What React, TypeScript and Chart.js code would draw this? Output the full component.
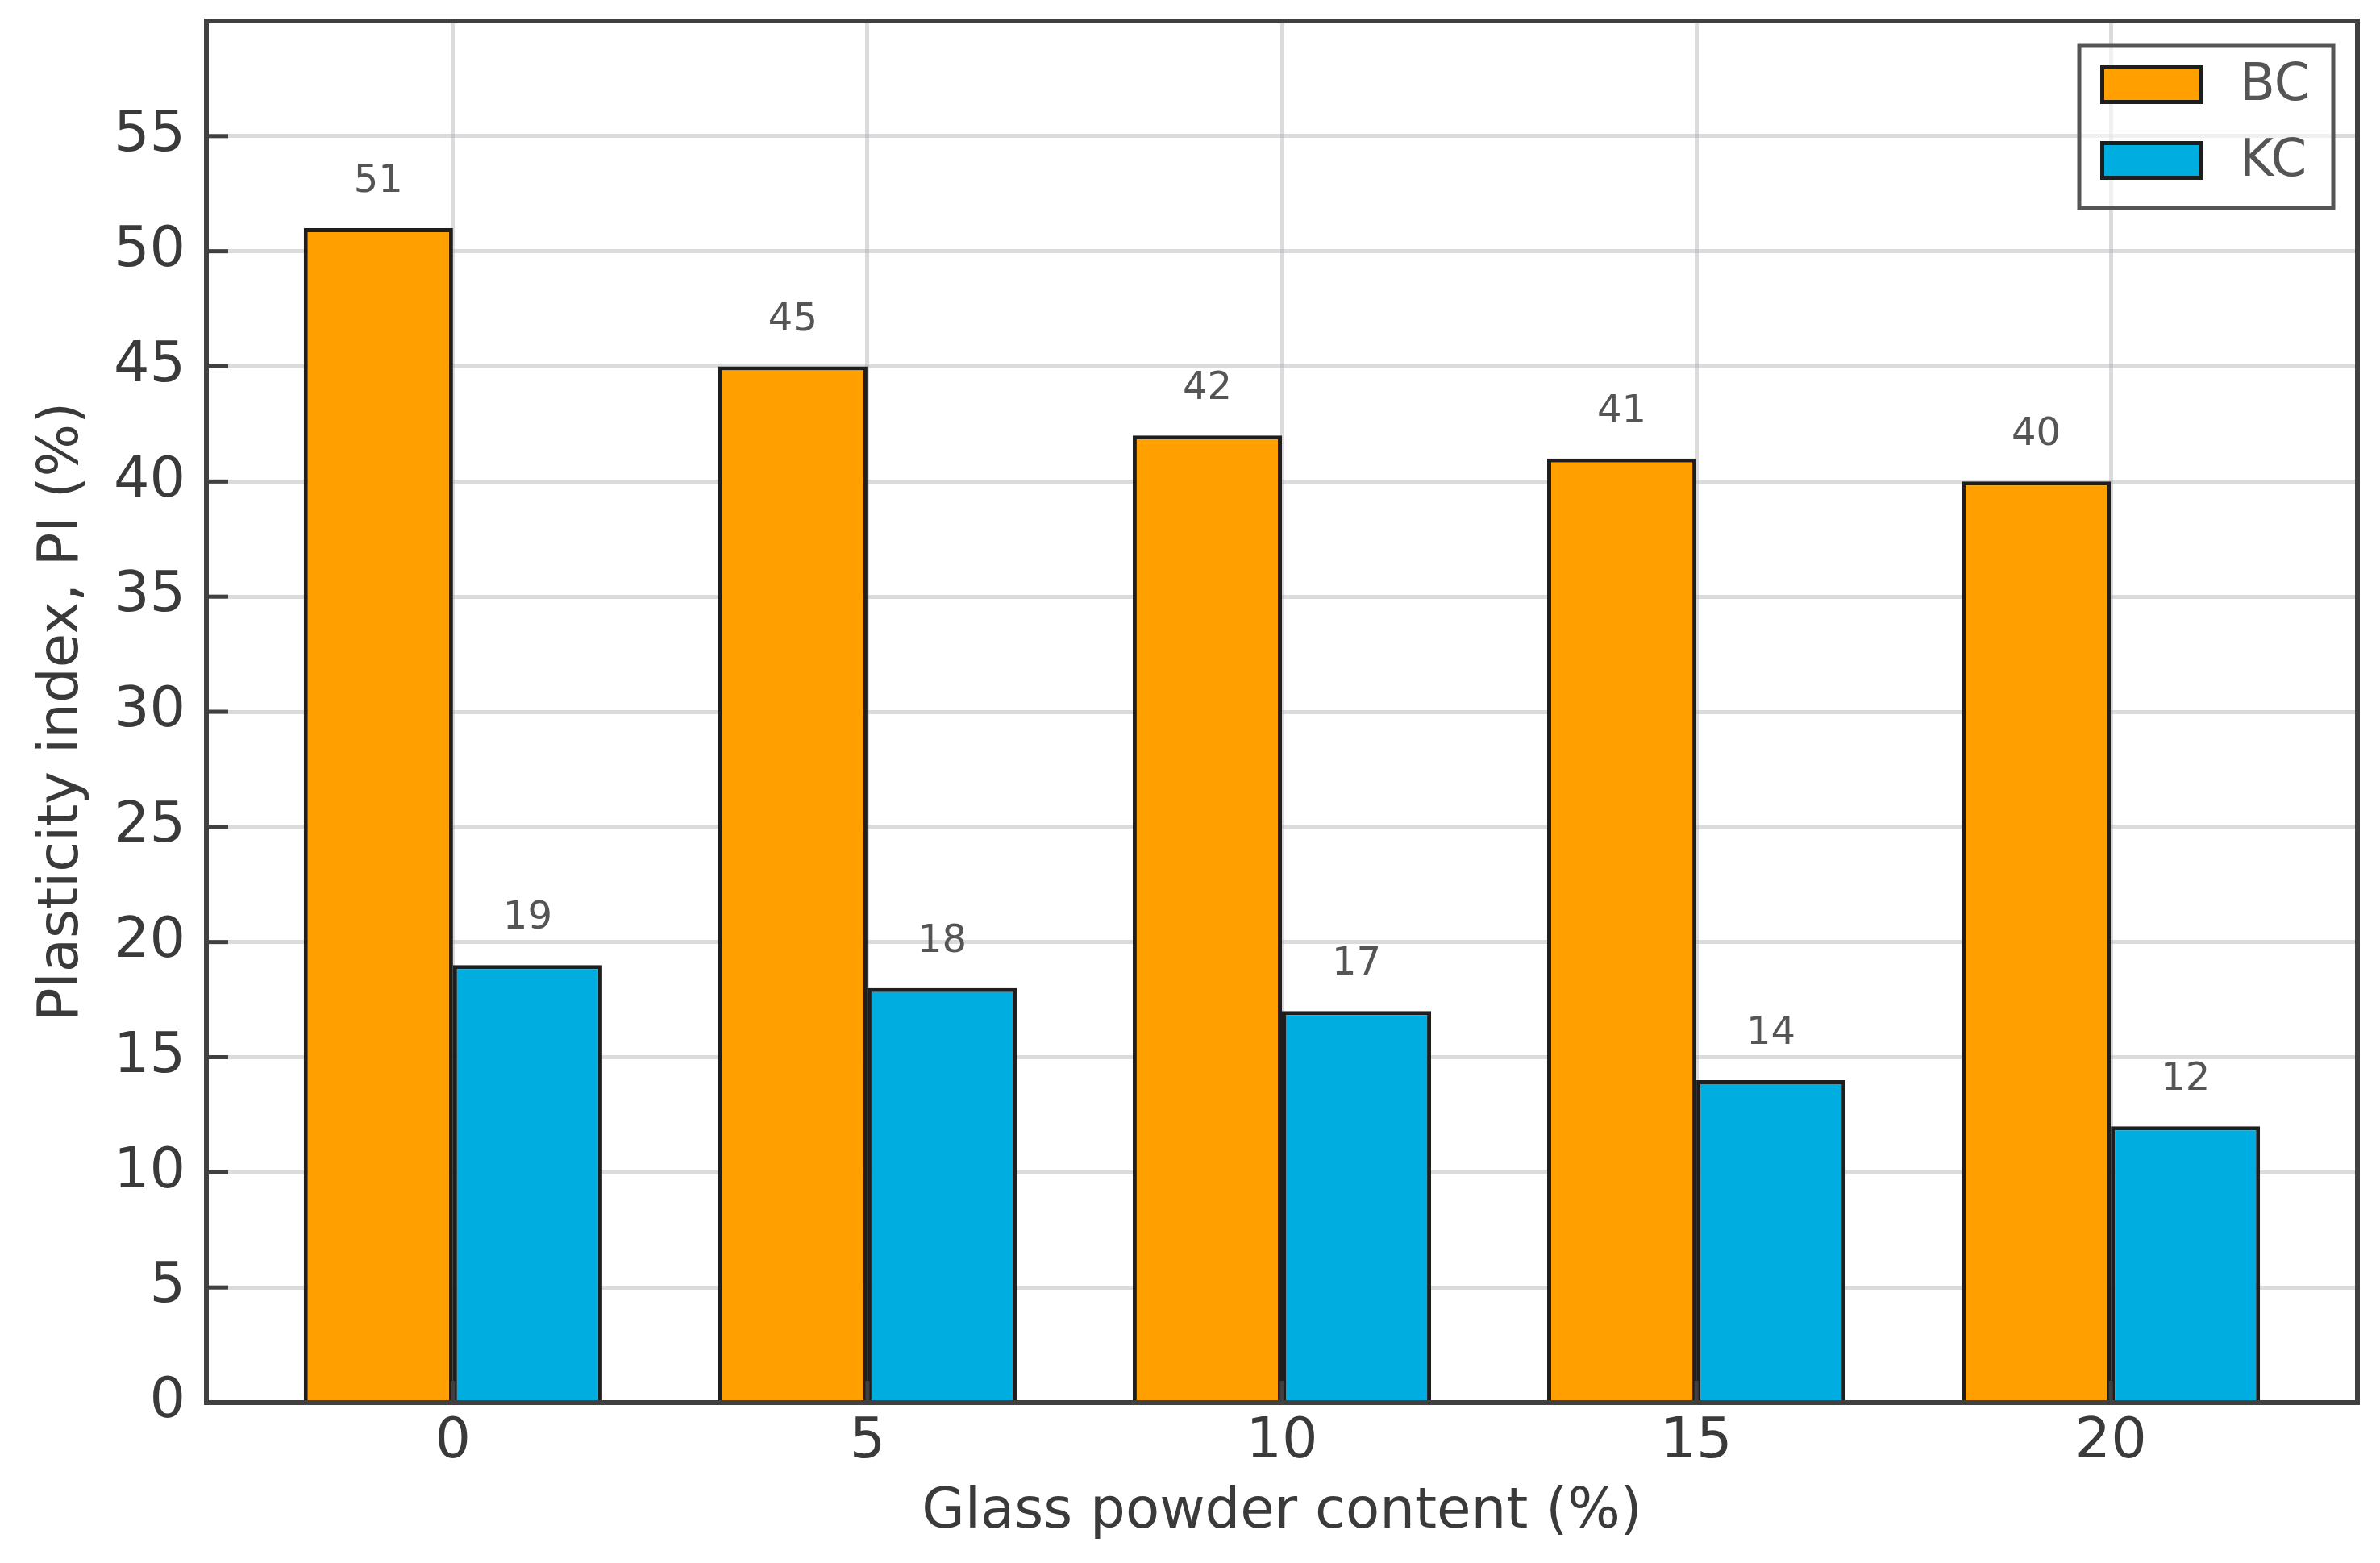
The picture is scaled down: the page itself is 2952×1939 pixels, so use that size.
import React, { useEffect, useRef } from 'react';
import { Chart, registerables } from 'chart.js';

Chart.register(...registerables);

const categories = ['0', '5', '10', '15', '20'];
const xPositions = [0, 1, 2, 3, 4];
const seriesNames = ['BC', 'KC'];
const bcValues = [51, 45, 42, 41, 40];
const kcValues = [19, 18, 17, 14, 12];
const yTicks = [0, 5, 10, 15, 20, 25, 30, 35, 40, 45, 50, 55];
const xTitle = 'Glass powder content (%)';
const yTitle = 'Plasticity index, PI (%)';

const FONT = "'DejaVu Sans', sans-serif";
const W = 2952;
const H = 1939;

const valueLabelPlugin = {
  id: 'valueLabels',
  afterDraw(chart: any) {
    const ctx = chart.ctx;
    ctx.save();
    ctx.font = `48px ${FONT}`;
    ctx.fillStyle = '#555555';
    ctx.textAlign = 'center';
    ctx.textBaseline = 'alphabetic';
    chart.data.datasets.forEach((ds: any, di: number) => {
      const meta = chart.getDatasetMeta(di);
      meta.data.forEach((bar: any, i: number) => {
        const v = ds.data[i].y;
        ctx.fillText(String(v), bar.x, bar.y - 45);
      });
    });
    ctx.restore();
  },
};

const framePlugin = {
  id: 'frameTicks',
  afterDraw(chart: any) {
    const ctx = chart.ctx;
    const a = chart.chartArea;
    const xs = chart.scales.x;
    const ys = chart.scales.y;
    ctx.save();
    ctx.strokeStyle = '#404040';
    ctx.lineWidth = 5;
    ctx.lineCap = 'butt';
    ys.ticks.forEach((t: any) => {
      const py = ys.getPixelForValue(t.value);
      ctx.beginPath();
      ctx.moveTo(a.left, py);
      ctx.lineTo(a.left + 27, py);
      ctx.stroke();
    });
    xs.ticks.forEach((t: any) => {
      const px = xs.getPixelForValue(t.value);
      ctx.beginPath();
      ctx.moveTo(px, a.bottom);
      ctx.lineTo(px, a.bottom - 27);
      ctx.stroke();
    });
    ctx.lineWidth = 6;
    ctx.strokeRect(a.left, a.top, a.right - a.left, a.bottom - a.top);
    ctx.restore();
  },
};

const legendPlugin = {
  id: 'innerLegend',
  afterDraw(chart: any) {
    const ctx = chart.ctx;
    const a = chart.chartArea;
    const right = a.right - 30;
    const top = a.top + 30;
    const w = 315;
    const h = 202;
    const left = right - w;
    ctx.save();
    ctx.fillStyle = 'rgba(255,255,255,0.6)';
    ctx.fillRect(left, top, w, h);
    ctx.strokeStyle = '#555555';
    ctx.lineWidth = 5;
    ctx.strokeRect(left, top, w, h);
    chart.data.datasets.forEach((ds: any, i: number) => {
      const sy = top + 25 + i * 94;
      const sx = left + 26;
      ctx.fillStyle = ds.backgroundColor;
      ctx.fillRect(sx, sy, 128, 48);
      ctx.strokeStyle = '#1e1e1e';
      ctx.lineWidth = 5;
      ctx.strokeRect(sx + 2.5, sy + 2.5, 123, 43);
      ctx.fillStyle = '#555555';
      ctx.font = `64px ${FONT}`;
      ctx.textAlign = 'left';
      ctx.textBaseline = 'middle';
      ctx.fillText(ds.label, left + 199, sy + 26);
    });
    ctx.restore();
  },
};

export default function App() {
  const ref = useRef<HTMLCanvasElement | null>(null);

  useEffect(() => {
    document.body.style.margin = '0';
    const canvas = ref.current;
    if (!canvas) return;
    const gridColor = 'rgba(175,175,180,0.45)';
    const chart = new Chart(canvas, {
      type: 'bar',
      data: {
        datasets: [
          {
            label: seriesNames[0],
            data: xPositions.map((x, i) => ({ x, y: bcValues[i] })),
            backgroundColor: '#FFA000',
            borderColor: '#1e1e1e',
            borderWidth: 5,
          },
          {
            label: seriesNames[1],
            data: xPositions.map((x, i) => ({ x, y: kcValues[i] })),
            backgroundColor: '#00ADE1',
            borderColor: '#1e1e1e',
            borderWidth: 5,
          },
        ],
      },
      options: {
        responsive: false,
        animation: false,
        devicePixelRatio: 1,
        datasets: {
          bar: { categoryPercentage: 0.72, barPercentage: 1 },
        },
        layout: { padding: { left: 0, top: 26, right: 28, bottom: 0 } },
        plugins: {
          legend: { display: false },
          tooltip: { enabled: false },
        },
        scales: {
          x: {
            type: 'linear',
            min: -0.595,
            max: 4.595,
            offset: false,
            z: 1,
            afterBuildTicks: (axis: any) => {
              axis.ticks = xPositions.map((v) => ({ value: v }));
            },
            afterFit: (axis: any) => {
              axis.height = 199;
              axis.paddingLeft = 0;
              axis.paddingRight = 0;
            },
            grid: { offset: false, color: gridColor, lineWidth: 5, drawTicks: false },
            border: { display: false },
            ticks: {
              padding: 8,
              color: '#3a3a3a',
              font: { family: FONT, size: 70 },
              autoSkip: false,
              maxRotation: 0,
              callback: (v: any) => {
                const idx = xPositions.indexOf(Number(v));
                return idx >= 0 ? categories[idx] : '';
              },
            },
            title: {
              display: true,
              text: xTitle,
              color: '#3a3a3a',
              font: { family: FONT, size: 69 },
              padding: { top: 0, bottom: 21 },
            },
          },
          y: {
            type: 'linear',
            min: 0,
            max: 60,
            z: 1,
            afterBuildTicks: (axis: any) => {
              axis.ticks = yTicks.map((v) => ({ value: v }));
            },
            afterFit: (axis: any) => {
              axis.width = 256;
              axis.paddingTop = 0;
              axis.paddingBottom = 0;
            },
            grid: { color: gridColor, lineWidth: 5, drawTicks: false },
            border: { display: false },
            ticks: {
              padding: 26,
              color: '#3a3a3a',
              font: { family: FONT, size: 70 },
              autoSkip: false,
              callback: (v: any) => String(v),
            },
            title: {
              display: true,
              text: yTitle,
              color: '#3a3a3a',
              font: { family: FONT, size: 69 },
              padding: { top: 37, bottom: 0 },
            },
          },
        },
      },
      plugins: [framePlugin, valueLabelPlugin, legendPlugin],
    } as any);
    return () => chart.destroy();
  }, []);

  return (
    <canvas
      ref={ref}
      width={W}
      height={H}
      style={{ display: 'block', width: W, height: H }}
    />
  );
}
